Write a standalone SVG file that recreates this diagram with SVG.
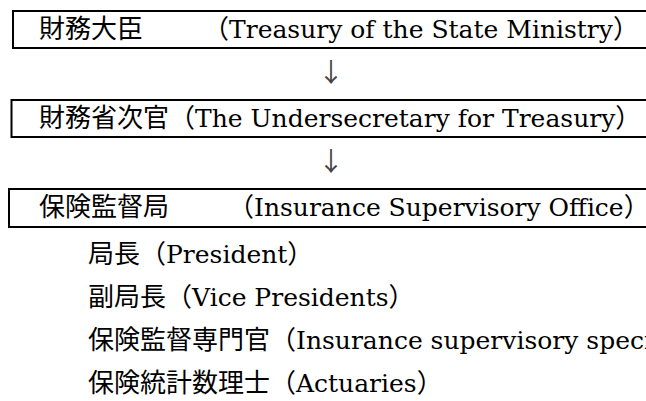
<svg xmlns="http://www.w3.org/2000/svg" width="646" height="401" viewBox="0 0 646 401">
<style>
.t{font-family:"Noto Sans CJK JP",sans-serif;font-size:26px;fill:#000}
.e{font-family:"DejaVu Serif","Liberation Serif",serif;font-size:25px}
.box{fill:none;stroke:#000;stroke-width:2}
.arr{font-family:"Noto Sans CJK JP",sans-serif;font-size:26px;fill:#444}
</style>
<rect width="646" height="401" fill="#fff"/>
<g id="node1">
<rect class="box" x="13" y="11" width="700" height="37"/>
<text class="t" y="38"><tspan x="39">財務大臣</tspan><tspan x="203">（</tspan><tspan class="e">Treasury of the State Ministry</tspan><tspan>）</tspan></text>
</g>
<g id="node2">
<rect class="box" x="11.5" y="100" width="700" height="37"/>
<text class="t" x="39" y="127">財務省次官（<tspan class="e">The Undersecretary for Treasury</tspan>）</text>
</g>
<g id="node3">
<rect class="box" x="9" y="189" width="700" height="38"/>
<text class="t" y="216"><tspan x="39">保険監督局</tspan><tspan x="228">（</tspan><tspan class="e">Insurance Supervisory Office</tspan><tspan>）</tspan></text>
</g>
<g id="connectors">
<text class="arr" x="331" y="82" text-anchor="middle">↓</text>
<text class="arr" x="331" y="171" text-anchor="middle">↓</text>
</g>
<g id="members">
<text class="t" x="88" y="263">局長（<tspan class="e">President</tspan>）</text>
<text class="t" x="88" y="306">副局長（<tspan class="e">Vice Presidents</tspan>）</text>
<text class="t" x="88" y="349">保険監督専門官（<tspan class="e">Insurance supervisory specialists</tspan>）</text>
<text class="t" x="88" y="392">保険統計数理士（<tspan class="e">Actuaries</tspan>）</text>
</g>
</svg>
